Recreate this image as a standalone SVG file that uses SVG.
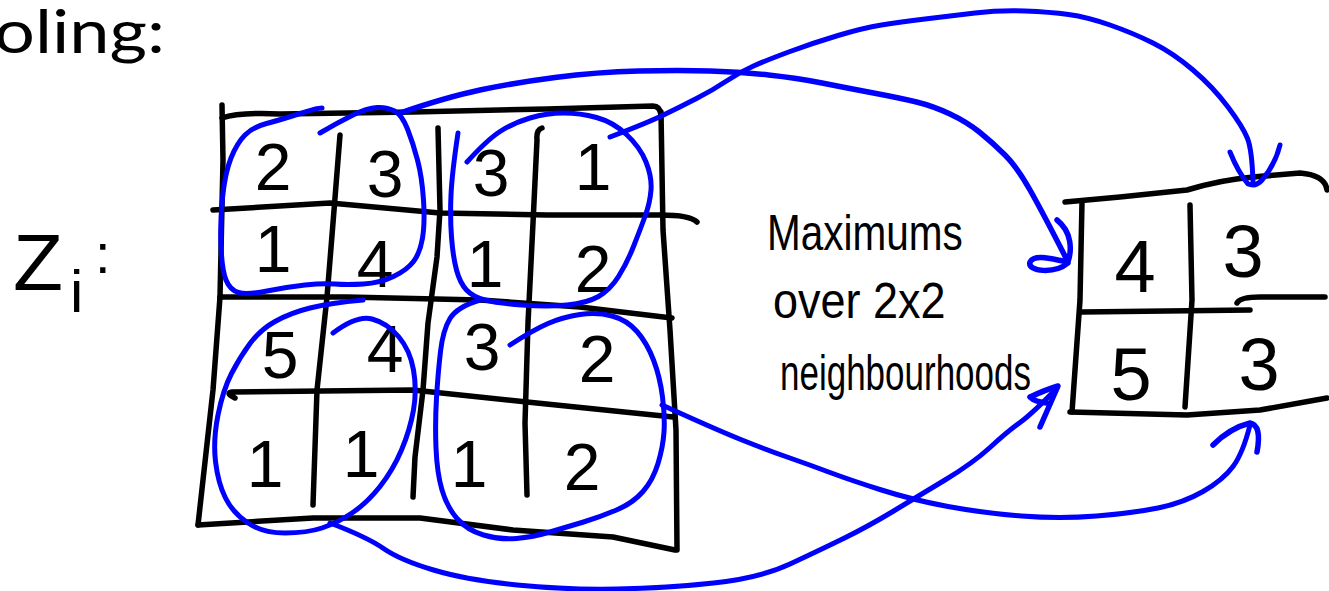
<svg xmlns="http://www.w3.org/2000/svg" width="1329" height="591" viewBox="0 0 1329 591">
<style>
.ink{fill:none;stroke:#000;stroke-width:5.5;stroke-linecap:round;stroke-linejoin:round}
.blue{fill:none;stroke:#0000ff;stroke-width:5;stroke-linecap:round;stroke-linejoin:round}
.thick{stroke-width:5.5}
.d{font-family:"Liberation Sans",Arial,sans-serif;font-size:66px;text-anchor:middle;fill:#000}
.o{font-size:74px}
.hand{font-family:"Liberation Sans",Arial,sans-serif;font-size:50px;fill:#000}
.lbl{font-family:"Liberation Sans",Arial,sans-serif;fill:#000}
</style>
<rect width="1329" height="591" fill="#fff"/>
<g id="title"><text x="-6" y="53" font-family="Lato, 'Open Sans', sans-serif" font-size="60" textLength="171" lengthAdjust="spacingAndGlyphs" fill="#000">oling:</text></g>
<g id="label-zi">
<text class="lbl" x="13" y="290" font-size="80" textLength="50" lengthAdjust="spacingAndGlyphs">Z</text>
<text class="lbl" x="70" y="312" font-size="60">i</text>
<text class="lbl" x="95" y="273" font-size="56">:</text>
</g>
<g id="input-grid">
<path class="ink" d="M222,118 Q240,112 280,114 L413,112 L547,109 L653,106 Q660,106 661,115"/>
<path class="ink" d="M661,112 L663,230 L670,330 L676,430 L677,550"/>
<path class="ink" d="M222,105 L223,160 L220,297 L213,390 L198,525"/>
<path class="ink" d="M198,525 L313,518 L420,518 L513,530 L613,537 L675,550"/>
<path class="ink" d="M213,210 L330,203 L440,213 L547,215 L660,215 Q690,215 697,222"/>
<path class="ink" d="M220,297 L347,297 L480,300 L580,307 L672,318"/>
<path class="ink" d="M235,398 Q225,393 232,392 L413,390 L527,402 L673,417"/>
<path class="ink" d="M340,135 L333,223 L327,297 L317,390 L313,505"/>
<path class="ink" d="M438,128 L440,210 L437,257 L428,323 L423,390 L415,457 L413,497"/>
<path class="ink" d="M542,128 Q536,130 537,140 L533,223 L528,323 L525,423 L527,495"/>
<text class="d" x="273" y="190">2</text>
<text class="d" x="385" y="197">3</text>
<text class="d" x="491" y="196">3</text>
<text class="d" x="593" y="190">1</text>
<text class="d" x="273" y="272">1</text>
<text class="d" x="375" y="287">4</text>
<text class="d" x="485" y="287">1</text>
<text class="d" x="593" y="292">2</text>
<text class="d" x="280" y="378">5</text>
<text class="d" x="385" y="372">4</text>
<text class="d" x="482" y="370">3</text>
<text class="d" x="597" y="382">2</text>
<text class="d" x="265" y="487">1</text>
<text class="d" x="361" y="477">1</text>
<text class="d" x="469" y="487">1</text>
<text class="d" x="582" y="490">2</text>
</g>
<g id="pool-top-left"><path class="blue" d="M320,133 Q337,123 352,115.5 Q367,108 377,107.5 Q387,107 394.5,111 Q402,115 407.5,129 Q413,143 417.5,160 Q422,177 423.5,200 Q425,223 422.5,238 Q420,253 413.5,261.5 Q407,270 393.5,276.5 Q380,283 363.5,284 Q347,285 335,284 Q323,283 305,285 Q287,287 267,291 Q247,295 238.5,292.5 Q230,290 226,280 Q222,270 221,246.5 Q220,223 222.5,198 Q225,173 231,158 Q237,143 245,135 Q253,127 266.5,123.5 Q280,120 298.5,114 Q317,108 322,108"/></g>
<g id="pool-top-right"><path class="blue" d="M467,162 Q487,140 500,131.5 Q513,123 530,118 Q547,113 563.5,113 Q580,113 596.5,117.5 Q613,122 626.5,134.5 Q640,147 646,162 Q652,177 651,190 Q650,203 645,216.5 Q640,230 633.5,246.5 Q627,263 618.5,276.5 Q610,290 598.5,296.5 Q587,303 567,305 Q547,307 522,305 Q497,303 485,300 Q473,297 466.5,290 Q460,283 456.5,270 Q453,257 451.5,237 Q450,217 451,195 Q452,173 458,133"/></g>
<g id="pool-bottom-left"><path class="blue" d="M363,300 Q330,303 310,308 Q290,313 275,321.5 Q260,330 250,343.5 Q240,357 231.5,373.5 Q223,390 218,415 Q213,440 215.5,461.5 Q218,483 225.5,498 Q233,513 248,523 Q263,533 285,533 Q307,533 322,528 Q337,523 352,513 Q367,503 380,486.5 Q393,470 401.5,450 Q410,430 413.5,410 Q417,390 413.5,370 Q410,350 398.5,336.5 Q387,323 372,319 Q357,315 333,333"/></g>
<g id="pool-bottom-right"><path class="blue" d="M510,345 Q533,330 548,323.5 Q563,317 580,314.5 Q597,312 612,316 Q627,320 637,331.5 Q647,343 653.5,360 Q660,377 662.5,397 Q665,417 664,432 Q663,447 658,463.5 Q653,480 643,491.5 Q633,503 616.5,510 Q600,517 583.5,522 Q567,527 550,532 Q533,537 516.5,538.5 Q500,540 483.5,535 Q467,530 457,518.5 Q447,507 442,490 Q437,473 436,448 Q435,423 436.5,398 Q438,373 440.5,351.5 Q443,330 450,318.5 Q457,307 480,300"/></g>
<g id="caption">
<text class="hand" transform="translate(767,250) scale(0.81,1)">Maximums</text>
<text class="hand" font-size="52" transform="translate(773,318) scale(0.9,1)">over 2x2</text>
<text class="hand" font-size="52" transform="translate(780,390) scale(0.7,1)">neighbourhoods</text>
</g>
<g id="output-grid">
<path class="ink" d="M1065,202 L1120,197 L1187,190 Q1220,180 1253,177 L1300,173 Q1325,175 1327,190"/>
<path class="ink" d="M1082,202 L1080,300 L1072,412"/>
<path class="ink" d="M1070,412 L1187,415 L1260,410 L1327,398"/>
<path class="ink" d="M1082,312 L1250,310"/>
<path class="ink" d="M1237,303 Q1240,297 1260,297 L1325,297"/>
<path class="ink" d="M1190,205 L1192,300 L1185,407"/>
<text class="d o" x="1135" y="292">4</text>
<text class="d o" x="1243" y="277">3</text>
<text class="d o" x="1131" y="400">5</text>
<text class="d o" x="1259" y="390">3</text>
</g>
<g id="connectors">
<path class="blue thick" d="M400,113 Q447,97 480,90 Q513,83 555,77.5 Q597,72 638.5,71 Q680,70 710,71 Q740,72 768.5,75 Q797,78 822,83 Q847,88 873.5,93 Q900,98 916.5,102 Q933,106 950,114 Q967,122 980,132.5 Q993,143 1005,155 Q1017,167 1030,190 Q1043,213 1067,260"/>
<path class="blue thick" d="M1057,220 C1072,232 1072,250 1068,262 C1055,260 1035,253 1030,262 C1027,272 1055,274 1068,263"/>
<path class="blue" d="M610,137 Q647,123 663.5,115 Q680,107 696.5,98.5 Q713,90 726.5,81 Q740,72 753.5,66 Q767,60 790,51.5 Q813,43 838,35.5 Q863,28 881.5,25 Q900,22 925,19 Q950,16 975,13 Q1000,10 1025,11 Q1050,12 1068.5,14.5 Q1087,17 1110,25 Q1133,33 1153,43 Q1173,53 1193,70 Q1213,87 1228,107 Q1243,127 1247.5,138.5 Q1252,150 1253,182"/>
<path class="blue" d="M1230,152 Q1238,172 1248,184 Q1256,187 1262,180 Q1275,165 1280,145"/>
<path class="blue" d="M330,523 Q367,537 383.5,548.5 Q400,560 433.5,570 Q467,580 517,585 Q567,590 617,589 Q667,588 713.5,583 Q760,578 790,564 Q820,550 843.5,538.5 Q867,527 892,512 Q917,497 945,480 Q973,463 990,447.5 Q1007,432 1020,422.5 Q1033,413 1057,388"/>
<path class="blue thick" d="M1030,397 Q1045,390 1058,386 L1040,427 M1030,397 Q1035,402 1047,403"/>
<path class="blue" d="M662,405 Q717,430 742,440 Q767,450 788.5,457.5 Q810,465 830,472.5 Q850,480 881.5,490 Q913,500 948,506.5 Q983,513 1021.5,516 Q1060,519 1096.5,516 Q1133,513 1158,508 Q1183,503 1203,491.5 Q1223,480 1233,466.5 Q1243,453 1250,425"/>
<path class="blue thick" d="M1213,445 Q1230,428 1250,423 Q1262,425 1257,452"/>
</g>
</svg>
